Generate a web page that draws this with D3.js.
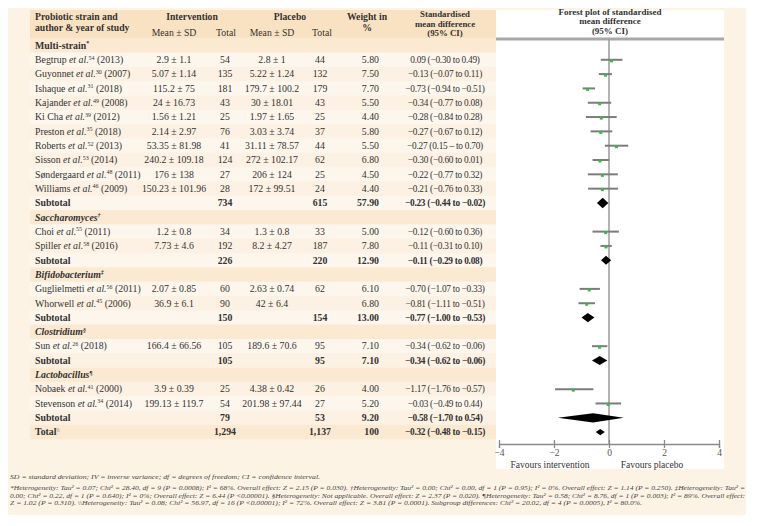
<!DOCTYPE html>
<html><head><meta charset="utf-8">
<script src="https://cdn.jsdelivr.net/npm/d3@7"></script>
<style>body{margin:0;background:#fff}svg{display:block}</style>
</head><body>
<svg id="c" width="757" height="526"></svg>
<script>
// ---------- data ----------
const rowNames = ["Multi-strain","Begtrup","Guyonnet","Ishaque","Kajander","Ki Cha","Preston","Roberts","Sisson","Søndergaard","Williams","Subtotal",
  "Saccharomyces","Choi","Spiller","Subtotal","Bifidobacterium","Guglielmetti","Whorwell","Subtotal","Clostridium","Sun","Subtotal",
  "Lactobacillus","Nobaek","Stevenson","Subtotal","Total"];
const rowTypes = ["group","study","study","study","study","study","study","study","study","study","study","sub",
  "group","study","study","sub","group","study","study","sub","group","study","sub","group","study","study","sub","total"];
const refMarks = ["*","54","30","31","49","39","35","52","53","48","46","","†","55","58","","‡","56","45","","§","26","","¶","41","34","","\\\\"];
const years = ["","2013","2007","2018","2008","2012","2018","2013","2014","2011","2009","","","2011","2016","","","2011","2006","","","2018","","","2000","2014","",""];
const intMeanSD = ["","2.9 ± 1.1","5.07 ± 1.14","115.2 ± 75","24 ± 16.73","1.56 ± 1.21","2.14 ± 2.97","53.35 ± 81.98","240.2 ± 109.18","176 ± 138","150.23 ± 101.96","",
  "","1.2 ± 0.8","7.73 ± 4.6","","","2.07 ± 0.85","36.9 ± 6.1","","","166.4 ± 66.56","","","3.9 ± 0.39","199.13 ± 119.7","",""];
const intTotal = ["","54","135","181","43","25","76","41","124","27","28","734","","34","192","226","","60","90","150","","105","105","","25","54","79","1,294"];
const plaMeanSD = ["","2.8 ± 1","5.22 ± 1.24","179.7 ± 100.2","30 ± 18.01","1.97 ± 1.65","3.03 ± 3.74","31.11 ± 78.57","272 ± 102.17","206 ± 124","172 ± 99.51","",
  "","1.3 ± 0.8","8.2 ± 4.27","","","2.63 ± 0.74","42 ± 6.4","","","189.6 ± 70.6","","","4.38 ± 0.42","201.98 ± 97.44","",""];
const plaTotal = ["","44","132","179","43","25","37","44","62","25","24","615","","33","187","220","","62","","154","","95","95","","26","27","53","1,137"];
const weights = ["","5.80","7.50","7.70","5.50","4.40","5.80","5.50","6.80","4.50","4.40","57.90","","5.00","7.80","12.90","","6.10","6.80","13.00","","7.10","7.10","","4.00","5.20","9.20","100"];
const smdText = ["","0.09 (−0.30 to 0.49)","−0.13 (−0.07 to 0.11)","−0.73 (−0.94 to −0.51)","−0.34 (−0.77 to 0.08)","−0.28 (−0.84 to 0.28)","−0.27 (−0.67 to 0.12)","−0.27 (0.15 – to 0.70)","−0.30 (−0.60 to 0.01)","−0.22 (−0.77 to 0.32)","−0.21 (−0.76 to 0.33)","−0.23 (−0.44 to −0.02)",
  "","−0.12 (−0.60 to 0.36)","−0.11 (−0.31 to 0.10)","−0.11 (−0.29 to 0.08)","","−0.70 (−1.07 to −0.33)","−0.81 (−1.11 to −0.51)","−0.77 (−1.00 to −0.53)","","−0.34 (−0.62 to −0.06)","−0.34 (−0.62 to −0.06)",
  "","−1.17 (−1.76 to −0.57)","−0.03 (−0.49 to 0.44)","−0.58 (−1.70 to 0.54)","−0.32 (−0.48 to −0.15)"];
// plotted estimates
const smd  = [null,0.09,-0.13,-0.78,-0.34,-0.28,-0.30,0.27,-0.33,-0.24,-0.24,-0.23,null,-0.12,-0.11,-0.11,null,-0.72,-0.81,-0.77,null,-0.34,-0.34,null,-1.30,-0.03,-0.58,-0.32];
const ciLo = [null,-0.30,-0.37,-0.96,-0.77,-0.84,-0.67,-0.15,-0.60,-0.77,-0.76,-0.44,null,-0.60,-0.31,-0.29,null,-1.07,-1.11,-1.00,null,-0.62,-0.62,null,-1.96,-0.49,-1.86,-0.48];
const ciHi = [null,0.49,0.11,-0.51,0.08,0.28,0.12,0.70,0.01,0.32,0.33,-0.02,null,0.36,0.10,0.08,null,-0.33,-0.51,-0.53,null,-0.06,-0.06,null,-0.57,0.44,0.54,-0.15];
const axisTicks = [-4,-2,0,2,4];

const fn1 = "SD = standard deviation; IV = inverse variance; df = degrees of freedom; CI = confidence interval.";
const fnLines = [
 "*Heterogeneity: Tau² = 0.07; Chi² = 28.40, df = 9 (P = 0.0008); I² = 68%. Overall effect: Z = 2.15 (P = 0.030). †Heterogeneity: Tau² = 0.00; Chi² = 0.00, df = 1 (P = 0.95); I² = 0%. Overall effect: Z = 1.14 (P = 0.250). ‡Heterogeneity: Tau² =",
 "0.00; Chi² = 0.22, df = 1 (P = 0.640); I² = 0%; Overall effect: Z = 6.44 (P <0.00001). §Heterogeneity: Not applicable. Overall effect: Z = 2.37 (P = 0.020). ¶Heterogeneity: Tau² = 0.58; Chi² = 8.76, df = 1 (P = 0.003); I² = 89%. Overall effect:",
 "Z = 1.02 (P = 0.310). \\\\Heterogeneity: Tau² = 0.08; Chi² = 56.97, df = 16 (P <0.00001); I² = 72%. Overall effect: Z = 3.81 (P = 0.0001). Subgroup differences: Chi² = 20.02, df = 4 (P = 0.0005), I² = 80.0%."
];

// ---------- layout ----------
const svg = d3.select("#c");
const F = "'Liberation Serif','Times New Roman',serif";
const txt = "#333";
const FS = 9.8;
const rowH = 14.32, tableTop = 38.3;
const y = d3.scaleBand().domain(d3.range(rowNames.length)).range([tableTop, tableTop + rowH*rowNames.length]);
const x = d3.scaleLinear().domain([-4,4]).range([499,719]);
const cy = i => y(i) + y.bandwidth()/2;

// backgrounds
svg.append("rect").attr("x",8).attr("y",8).attr("width",738).attr("height",507).attr("fill","#fdf3e4");
svg.append("rect").attr("x",30).attr("y",10).attr("width",466).attr("height",tableTop-10).attr("fill","#f9e2c2");
svg.selectAll("rect.row").data(rowNames).join("rect").attr("class","row")
  .attr("x",30).attr("width",466).attr("y",(d,i)=>y(i)).attr("height",y.bandwidth())
  .attr("fill",(d,i)=> rowTypes[i]==="group"||rowTypes[i]==="total" ? "#fbe9d1" : (i%2 ? "#fdf6ec" : "#fcf1e2"));
// forest panel
svg.append("rect").attr("x",496).attr("y",10).attr("width",228).attr("height",459).attr("fill","#fff");

// headers
function hText(t,xx,yy,anchor,weight,fs){
  return svg.append("text").attr("x",xx).attr("y",yy).attr("text-anchor",anchor||"middle")
    .attr("font-family",F).attr("font-size",fs||9.7).attr("font-weight",weight||"bold").attr("fill",txt).text(t);
}
hText("Probiotic strain and",35,20,"start");
hText("author & year of study",35,30.5,"start");
hText("Intervention",192,20);
hText("Placebo",290,20);
hText("Mean ± SD",174,35.5,"middle","normal");
hText("Total",226,35.5,"middle","normal");
hText("Mean ± SD",272,35.5,"middle","normal");
hText("Total",322,35.5,"middle","normal");
hText("Weight in",367,20);
hText("%",367,30.5);
hText("Standardised",445,17,"middle","bold",8.8);
hText("mean difference",445,26.5,"middle","bold",8.8);
hText("(95% CI)",445,36,"middle","bold",8.8);
hText("Forest plot of standardised",610,14.5,"middle","bold",9);
hText("mean difference",610,24,"middle","bold",9);
hText("(95% CI)",610,33.5,"middle","bold",9);

// table rows
const rows = svg.append("g").attr("font-family",F).attr("font-size",FS).attr("fill",txt);
rowNames.forEach((name,i)=>{
  const t = rowTypes[i], yy = cy(i)+3.3;
  const bold = (t==="sub"||t==="total") ? "bold" : "normal";
  const lab = rows.append("text").attr("x",35).attr("y",yy);
  if (t==="study"){
    lab.append("tspan").text(name+" ");
    lab.append("tspan").attr("font-style","italic").text("et al.");
    lab.append("tspan").attr("font-size",6).attr("dy",-3.5).text(refMarks[i]);
    lab.append("tspan").attr("dy",3.5).text(" ("+years[i]+")");
  } else if (t==="group"){
    lab.attr("font-weight","bold").attr("font-style", i===0 ? "normal":"italic");
    lab.append("tspan").text(name);
    lab.append("tspan").attr("font-size",6).attr("dy",-3.5).text(refMarks[i]);
  } else {
    lab.attr("font-weight","bold");
    lab.append("tspan").text(name);
    if (refMarks[i]) lab.append("tspan").attr("font-size",5.5).attr("font-weight","normal").attr("dy",-3.5).text(refMarks[i]);
  }
  const cell = (v,xx,anchor,w)=>{ if(v) rows.append("text").attr("x",xx).attr("y",yy).attr("text-anchor",anchor).attr("font-weight",w).text(v); };
  cell(intMeanSD[i],174,"middle","normal");
  cell(intTotal[i],225,"middle",bold);
  cell(plaMeanSD[i],272,"middle","normal");
  cell(plaTotal[i],320,"middle",bold);
  cell(weights[i],379,"end",bold);
  if (smdText[i]) rows.append("text").attr("x",445).attr("y",yy).attr("text-anchor","middle")
     .attr("font-weight",bold).attr("font-size",9.3).attr("letter-spacing",-0.25).text(smdText[i]);
});

// forest plot
const fp = svg.append("g");
fp.append("line").attr("x1",496).attr("x2",724).attr("y1",39).attr("y2",39).attr("stroke","#a8a8a8").attr("stroke-width",3);
fp.append("line").attr("x1",x(0)).attr("x2",x(0)).attr("y1",39).attr("y2",444).attr("stroke","#9a9a9a").attr("stroke-width",1.5);
const idx = d3.range(rowNames.length).filter(i=>smd[i]!==null);
const studies = idx.filter(i=>rowTypes[i]==="study");
const diamonds = idx.filter(i=>rowTypes[i]!=="study");
fp.selectAll("line.ci").data(studies).join("line").attr("class","ci")
  .attr("x1",i=>x(ciLo[i])).attr("x2",i=>x(ciHi[i])).attr("y1",i=>cy(i)).attr("y2",i=>cy(i))
  .attr("stroke","#7c7c7c").attr("stroke-width",2);
fp.selectAll("rect.pt").data(studies).join("rect").attr("class","pt")
  .attr("x",i=>x(smd[i])-1.5).attr("y",i=>cy(i)-0.5).attr("width",3).attr("height",3).attr("fill","#3db54a");
const dH = i => rowTypes[i]==="total" ? 3.2 : (i===11 ? 5.2 : 4.6);
fp.selectAll("path.dia").data(diamonds).join("path").attr("class","dia")
  .attr("d",i=>{const c=cy(i),h=dH(i); return `M${x(ciLo[i])},${c}L${x(smd[i])},${c-h}L${x(ciHi[i])},${c}L${x(smd[i])},${c+h}Z`;})
  .attr("fill","#000");

// axis
const ax = fp.append("g").attr("transform","translate(0,444)")
  .call(d3.axisBottom(x).tickValues(axisTicks).tickSize(4).tickPadding(1.5).tickFormat(d=>d<0?"−"+Math.abs(d):d));
ax.select(".domain").attr("stroke","#8a8a8a").attr("stroke-width",1.3);
ax.selectAll(".tick line").attr("y1",-4).attr("y2",4).attr("stroke","#8a8a8a").attr("stroke-width",1.3);
ax.selectAll(".tick text").attr("font-family",F).attr("font-size",9.5).attr("fill","#555");
fp.append("text").attr("x",550).attr("y",467.5).attr("text-anchor","middle").attr("font-family",F).attr("font-size",9.5).attr("fill",txt).text("Favours intervention");
fp.append("text").attr("x",652).attr("y",467.5).attr("text-anchor","middle").attr("font-family",F).attr("font-size",9.5).attr("fill",txt).text("Favours placebo");

// footnotes
const fn = svg.append("g").attr("font-family",F).attr("font-style","italic").attr("font-size",7).attr("fill","#444");
fn.append("text").attr("x",10).attr("y",479).text(fn1).attr("textLength",310).attr("lengthAdjust","spacingAndGlyphs");
fnLines.forEach((l,k)=>{
  fn.append("text").attr("x",10).attr("y",490+k*7.5).attr("textLength", k===2?632:735).attr("lengthAdjust","spacingAndGlyphs").text(l);
});
</script>
</body></html>
